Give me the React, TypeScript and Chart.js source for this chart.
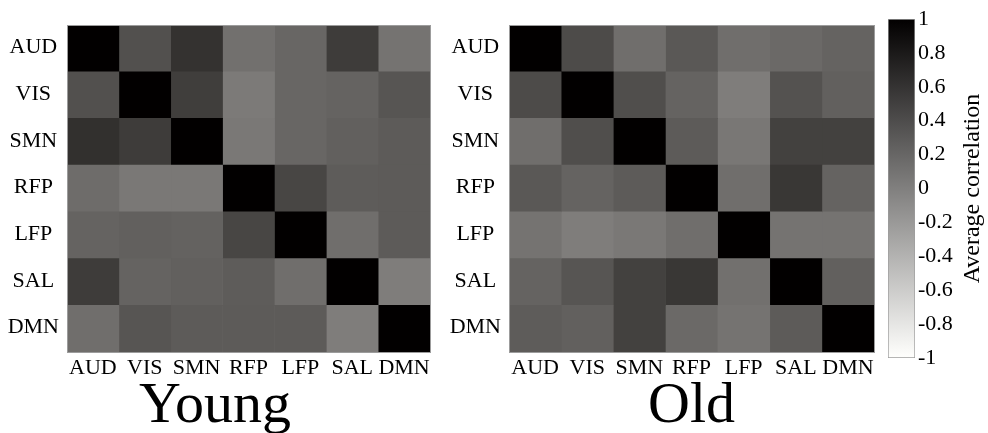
import React, { useEffect, useRef } from 'react';
import { Chart, registerables } from 'chart.js';

Chart.register(...registerables);

// ---------- data ----------
const networks = ['AUD', 'VIS', 'SMN', 'RFP', 'LFP', 'SAL', 'DMN'];

// rows: AUD, VIS, SMN, RFP, LFP, SAL, DMN ; columns same order
const youngMatrix = [
  [1.0, 0.37, 0.61, 0.12, 0.2, 0.53, 0.1],
  [0.37, 1.0, 0.51, 0.04, 0.2, 0.22, 0.33],
  [0.62, 0.53, 1.0, 0.06, 0.2, 0.25, 0.29],
  [0.15, 0.06, 0.06, 1.0, 0.45, 0.28, 0.29],
  [0.22, 0.25, 0.23, 0.45, 1.0, 0.14, 0.29],
  [0.53, 0.22, 0.25, 0.28, 0.14, 1.0, 0.02],
  [0.14, 0.33, 0.29, 0.29, 0.29, 0.02, 1.0],
];

const oldMatrix = [
  [1.0, 0.41, 0.14, 0.31, 0.14, 0.18, 0.22],
  [0.41, 1.0, 0.39, 0.22, 0.02, 0.36, 0.25],
  [0.14, 0.39, 1.0, 0.29, 0.07, 0.49, 0.49],
  [0.31, 0.22, 0.29, 1.0, 0.14, 0.57, 0.22],
  [0.1, 0.02, 0.06, 0.14, 1.0, 0.1, 0.1],
  [0.22, 0.33, 0.49, 0.57, 0.12, 1.0, 0.25],
  [0.28, 0.25, 0.49, 0.18, 0.1, 0.29, 1.0],
];

const colorbarMin = -1;
const colorbarMax = 1;
const colorbarStep = 0.2;
const colorbarTitle = 'Average correlation';
const youngTitle = 'Young';
const oldTitle = 'Old';

// ---------- styles ----------
const FONT = "'Liberation Serif', 'Times New Roman', Times, serif";
const BORDER = '#9c9c9c';

function grayFor(v: number): string {
  const t = (1 - (v - colorbarMin) / (colorbarMax - colorbarMin));
  const g = Math.round(255 * t);
  return `rgb(${Math.min(255, g + 2)},${g},${Math.max(0, g - 2)})`;
}

function heatmapConfig(matrix: number[][], opts: { yWidth: number; title: string; usePluginTitle: boolean }): any {
  const datasets = networks.map((col, j) => ({
    label: col,
    data: networks.map(() => [j, j + 1]),
    backgroundColor: matrix.map((row) => grayFor(row[j])),
    borderWidth: 0,
    barPercentage: 1,
    categoryPercentage: 1,
    grouped: false,
  }));
  const titleFont = { family: FONT, size: 58, lineHeight: 0.9, weight: 'normal' };
  return {
    type: 'bar',
    data: { labels: networks, datasets },
    options: {
      indexAxis: 'y',
      responsive: false,
      animation: false,
      layout: { padding: { top: 25, right: 10, left: 0, bottom: 0 } },
      plugins: {
        legend: { display: false },
        tooltip: { enabled: false },
        title: {
          display: opts.usePluginTitle,
          text: opts.title,
          position: 'bottom',
          color: '#000',
          font: titleFont,
          padding: { top: 0, bottom: 0 },
        },
      },
      scales: {
        x: {
          type: 'linear',
          position: 'bottom',
          min: 0,
          max: networks.length,
          grid: { display: false, drawTicks: false },
          border: { display: true, color: BORDER, width: 1, z: 1 },
          afterBuildTicks: (scale: any) => {
            scale.ticks = networks.map((_, i) => ({ value: i + 0.5 }));
          },
          ticks: {
            autoSkip: false,
            maxRotation: 0,
            color: '#000',
            font: { family: FONT, size: 22 },
            padding: 3,
            callback: (v: number) => networks[Math.floor(v)],
          },
          title: {
            display: !opts.usePluginTitle,
            text: opts.title,
            color: '#000',
            font: titleFont,
            padding: { top: 0, bottom: 0 },
          },
          afterFit: (scale: any) => {
            scale.height = opts.usePluginTitle ? 433 - 352 - 58 * 0.9 : 81;
          },
        },
        x2: {
          type: 'linear',
          position: 'top',
          min: 0,
          max: 1,
          grid: { display: false, drawTicks: false },
          border: { display: true, color: BORDER, width: 1, z: 1 },
          ticks: { display: false },
          afterFit: (scale: any) => {
            scale.height = 0;
          },
        },
        y: {
          type: 'category',
          position: 'left',
          grid: { display: false, drawTicks: false },
          border: { display: true, color: BORDER, width: 1, z: 1 },
          ticks: {
            color: '#000',
            font: { family: FONT, size: 22 },
            crossAlign: 'center',
            padding: 8,
            labelOffset: -1,
          },
          afterFit: (scale: any) => {
            scale.width = opts.yWidth;
          },
        },
        y2: {
          type: 'linear',
          position: 'right',
          min: 0,
          max: 1,
          grid: { display: false, drawTicks: false },
          border: { display: true, color: BORDER, width: 1, z: 1 },
          ticks: { display: false },
          afterFit: (scale: any) => {
            scale.width = 0;
          },
        },
      },
    },
  };
}

function colorbarConfig(): any {
  const titlePlugin = {
    id: 'colorbarTitle',
    afterDraw(chart: any) {
      const ctx = chart.ctx;
      const ys = chart.scales.y;
      const cy = (ys.getPixelForValue(colorbarMax) + ys.getPixelForValue(colorbarMin)) / 2;
      ctx.save();
      ctx.translate(chart.chartArea.right + 64, cy);
      ctx.rotate(-Math.PI / 2);
      ctx.font = `24px ${FONT}`;
      ctx.fillStyle = '#000';
      ctx.textAlign = 'center';
      ctx.textBaseline = 'alphabetic';
      ctx.fillText(colorbarTitle, 0, 0);
      ctx.restore();
    },
  };
  return {
    type: 'bar',
    data: {
      labels: [''],
      datasets: [
        {
          data: [[colorbarMin, colorbarMax]],
          backgroundColor: (c: any) => {
            const chart = c.chart;
            const ys = chart.scales && chart.scales.y;
            if (!chart.chartArea || !ys) return '#808080';
            const g = chart.ctx.createLinearGradient(0, ys.getPixelForValue(colorbarMax), 0, ys.getPixelForValue(colorbarMin));
            g.addColorStop(0, grayFor(colorbarMax));
            g.addColorStop(1, grayFor(colorbarMin));
            return g;
          },
          borderColor: BORDER,
          borderWidth: 1,
          borderSkipped: false,
          barPercentage: 1,
          categoryPercentage: 1,
        },
      ],
    },
    options: {
      responsive: false,
      animation: false,
      layout: { padding: { top: 19, bottom: 75, left: 8, right: 0 } },
      plugins: { legend: { display: false }, tooltip: { enabled: false } },
      scales: {
        x: { type: 'category', display: false },
        y: {
          type: 'linear',
          position: 'right',
          min: colorbarMin,
          max: colorbarMax,
          grid: { display: false, drawTicks: false },
          border: { display: false },
          ticks: {
            stepSize: colorbarStep,
            color: '#000',
            font: { family: FONT, size: 22 },
            padding: 3,
            callback: (v: number) => String(Number(v.toFixed(1))),
          },
          afterFit: (scale: any) => {
            scale.width = 73;
          },
        },
      },
    },
    plugins: [titlePlugin],
  };
}

export default function App() {
  const youngRef = useRef<HTMLCanvasElement>(null);
  const oldRef = useRef<HTMLCanvasElement>(null);
  const cbRef = useRef<HTMLCanvasElement>(null);

  useEffect(() => {
    const charts: Chart[] = [];
    if (youngRef.current) {
      charts.push(new Chart(youngRef.current, heatmapConfig(youngMatrix, { yWidth: 67, title: youngTitle, usePluginTitle: true })));
    }
    if (oldRef.current) {
      charts.push(new Chart(oldRef.current, heatmapConfig(oldMatrix, { yWidth: 69, title: oldTitle, usePluginTitle: false })));
    }
    if (cbRef.current) {
      charts.push(new Chart(cbRef.current, colorbarConfig()));
    }
    return () => charts.forEach((c) => c.destroy());
  }, []);

  return (
    <div style={{ position: 'absolute', left: 0, top: 0, width: 988, height: 433, background: '#fff', overflow: 'hidden' }}>
      <canvas ref={youngRef} width={440} height={433} style={{ position: 'absolute', left: 0, top: 0, width: 440, height: 433 }} />
      <canvas ref={oldRef} width={444} height={433} style={{ position: 'absolute', left: 440, top: 0, width: 444, height: 433 }} />
      <canvas ref={cbRef} width={108} height={433} style={{ position: 'absolute', left: 880, top: 0, width: 108, height: 433 }} />
    </div>
  );
}
